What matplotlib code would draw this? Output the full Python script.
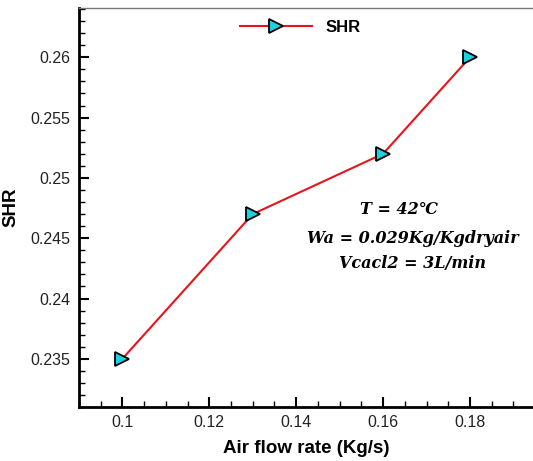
import matplotlib
matplotlib.use("Agg")
import matplotlib.pyplot as plt
from matplotlib.ticker import MultipleLocator

air_flow = [0.1, 0.13, 0.16, 0.18]
shr = [0.235, 0.247, 0.252, 0.26]
series_label = "SHR"
annotations = ["T = 42℃", "Wa = 0.029Kg/Kgdryair", "Vcacl2 = 3L/min"]

plt.rcParams['font.family'] = ['Liberation Sans', 'DejaVu Sans']
fig = plt.figure(figsize=(5.33, 4.61), dpi=100)
ax = fig.add_axes([0.148, 0.117, 0.852, 0.866])

ax.plot(air_flow, shr, color='#e8141c', lw=1.5, marker='>', markersize=10,
        markerfacecolor='#19d3e0', markeredgecolor='black', markeredgewidth=1.3,
        label=series_label)

ax.set_xlim(0.09, 0.1945)
ax.set_ylim(0.231, 0.2641)
ax.xaxis.set_minor_locator(MultipleLocator(0.005))
ax.yaxis.set_minor_locator(MultipleLocator(0.001))
ax.set_xticks([0.1, 0.12, 0.14, 0.16, 0.18])
ax.set_xticklabels(['0.1', '0.12', '0.14', '0.16', '0.18'])
ax.set_yticks([0.235, 0.24, 0.245, 0.25, 0.255, 0.26])
ax.set_yticklabels(['0.235', '0.24', '0.245', '0.25', '0.255', '0.26'])

ax.tick_params(which='major', direction='in', length=7, width=1.5, labelsize=11.5, colors='black', pad=6)
ax.tick_params(which='minor', direction='in', length=4, width=1)
ax.tick_params(axis='x', labelcolor='#222222')
ax.tick_params(axis='y', labelcolor='#222222')

for s in ['left', 'bottom']:
    ax.spines[s].set_linewidth(2)
ax.spines['top'].set_linewidth(1)
ax.spines['top'].set_color('#777777')
ax.spines['right'].set_visible(False)

ax.set_xlabel('Air flow rate (Kg/s)', fontsize=13.5, fontweight='bold', labelpad=7)
ax.set_ylabel('SHR', fontsize=13.5, fontweight='bold', labelpad=8)

leg = ax.legend(loc='upper left', bbox_to_anchor=(0.330, 1.0), frameon=False,
                prop={'weight': 'bold', 'size': 12}, handlelength=4.3, borderaxespad=0.3,
                handletextpad=0.8)

xs = [0.1637, 0.1668, 0.1668]
ys = [0.2474, 0.2450, 0.2429]
for t, x, y in zip(annotations, xs, ys):
    ax.text(x, y, t, ha='center', va='center', fontsize=11.5,
            family='DejaVu Serif', style='italic', fontweight='bold')

fig.savefig('out.png', dpi=100)
